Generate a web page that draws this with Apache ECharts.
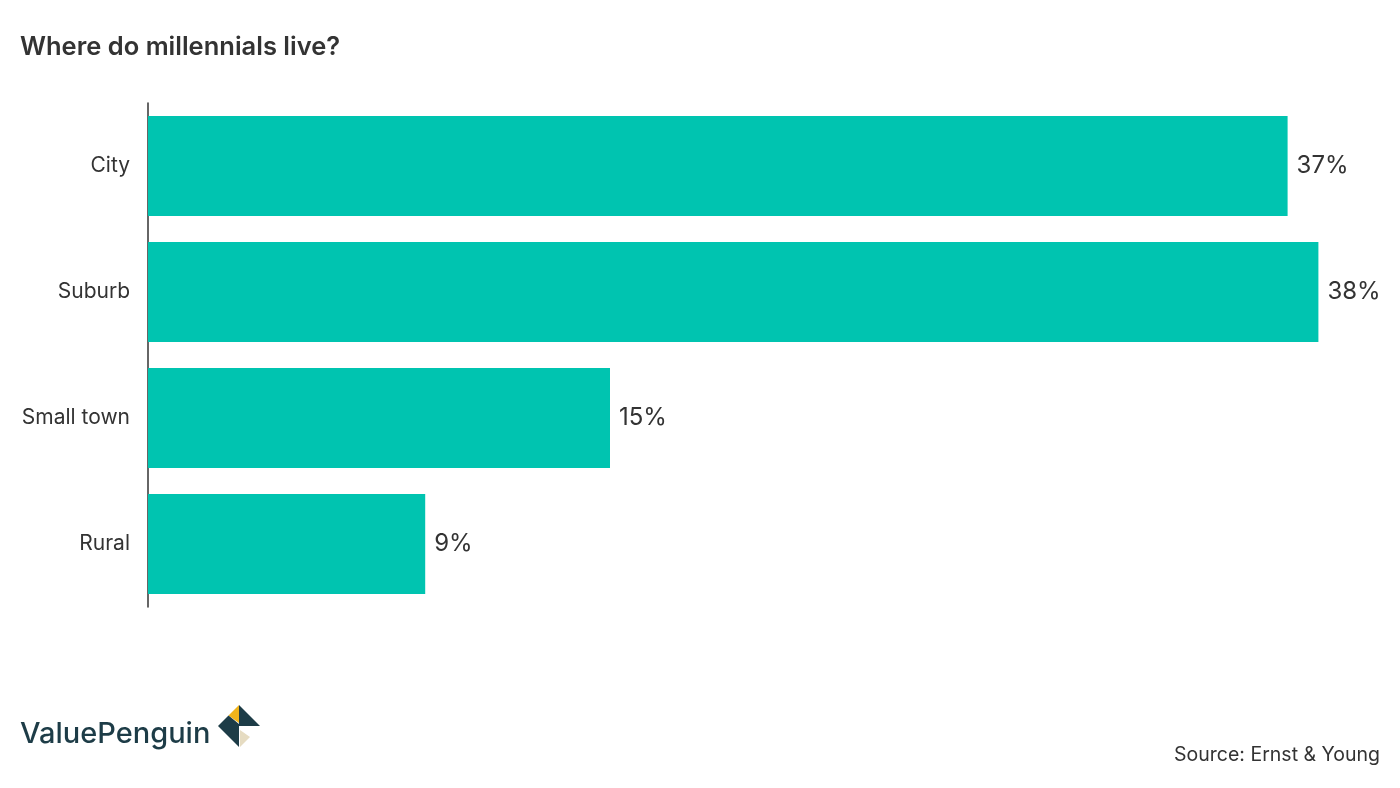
<!DOCTYPE html>
<html><head><meta charset="utf-8">
<script src="https://cdn.jsdelivr.net/npm/echarts@6/dist/echarts.min.js"></script>
<style>html,body{margin:0;padding:0;background:#fff}#c{width:1400px;height:788px}</style>
</head><body><div id="c"></div>
<script>
const categories = ["City", "Suburb", "Small town", "Rural"];
const shares = [37, 38, 15, 9];
const titleText = "Where do millennials live?";
const sourceText = "Source: Ernst & Young";
const brandText = "ValuePenguin";

const FONT = 'Inter';
const chart = echarts.init(document.getElementById('c'));
chart.setOption({
  animation: false,
  backgroundColor: '#fff',
  title: {
    text: titleText, left: 20, top: 34, padding: 0,
    textStyle: {fontFamily: FONT, fontSize: 25.5, fontWeight: 600, color: '#333'}
  },
  grid: {left: 148, right: 20, top: 103, height: 504, containLabel: false},
  xAxis: {type: 'value', min: 0, max: 40, show: false},
  yAxis: {
    type: 'category', data: categories, inverse: true,
    axisLine: {show: true, lineStyle: {color: '#333', width: 1.5}},
    axisTick: {show: false},
    axisLabel: {fontFamily: FONT, fontSize: 21, color: '#333', margin: 18},
    splitLine: {show: false}
  },
  series: [{
    type: 'bar', data: shares, barWidth: 100,
    itemStyle: {color: '#00c4b0'},
    label: {show: true, position: 'right', distance: 9, formatter: '{c}%',
      fontFamily: FONT, fontSize: 24, color: '#333'}
  }],
  graphic: [
    {type: 'text', left: 20, top: 720, style: {text: brandText, font: '500 29px ' + FONT, fill: '#1d3c47'}},
    {type: 'polygon', shape: {points: [[239,705],[260,726],[239,726]]}, style: {fill: '#1d3c47'}},
    {type: 'polygon', shape: {points: [[239,705],[228.5,715.5],[239,723]]}, style: {fill: '#f0b41c'}},
    {type: 'polygon', shape: {points: [[218,726],[228.5,715.5],[239,724],[239,747]]}, style: {fill: '#1d3c47'}},
    {type: 'polygon', shape: {points: [[240,730],[250,737],[240,747]]}, style: {fill: '#e6dcc2'}},
    {type: 'text', right: 20, top: 745, style: {text: sourceText, font: '19.5px ' + FONT, fill: '#333'}}
  ]
});
</script></body></html>
